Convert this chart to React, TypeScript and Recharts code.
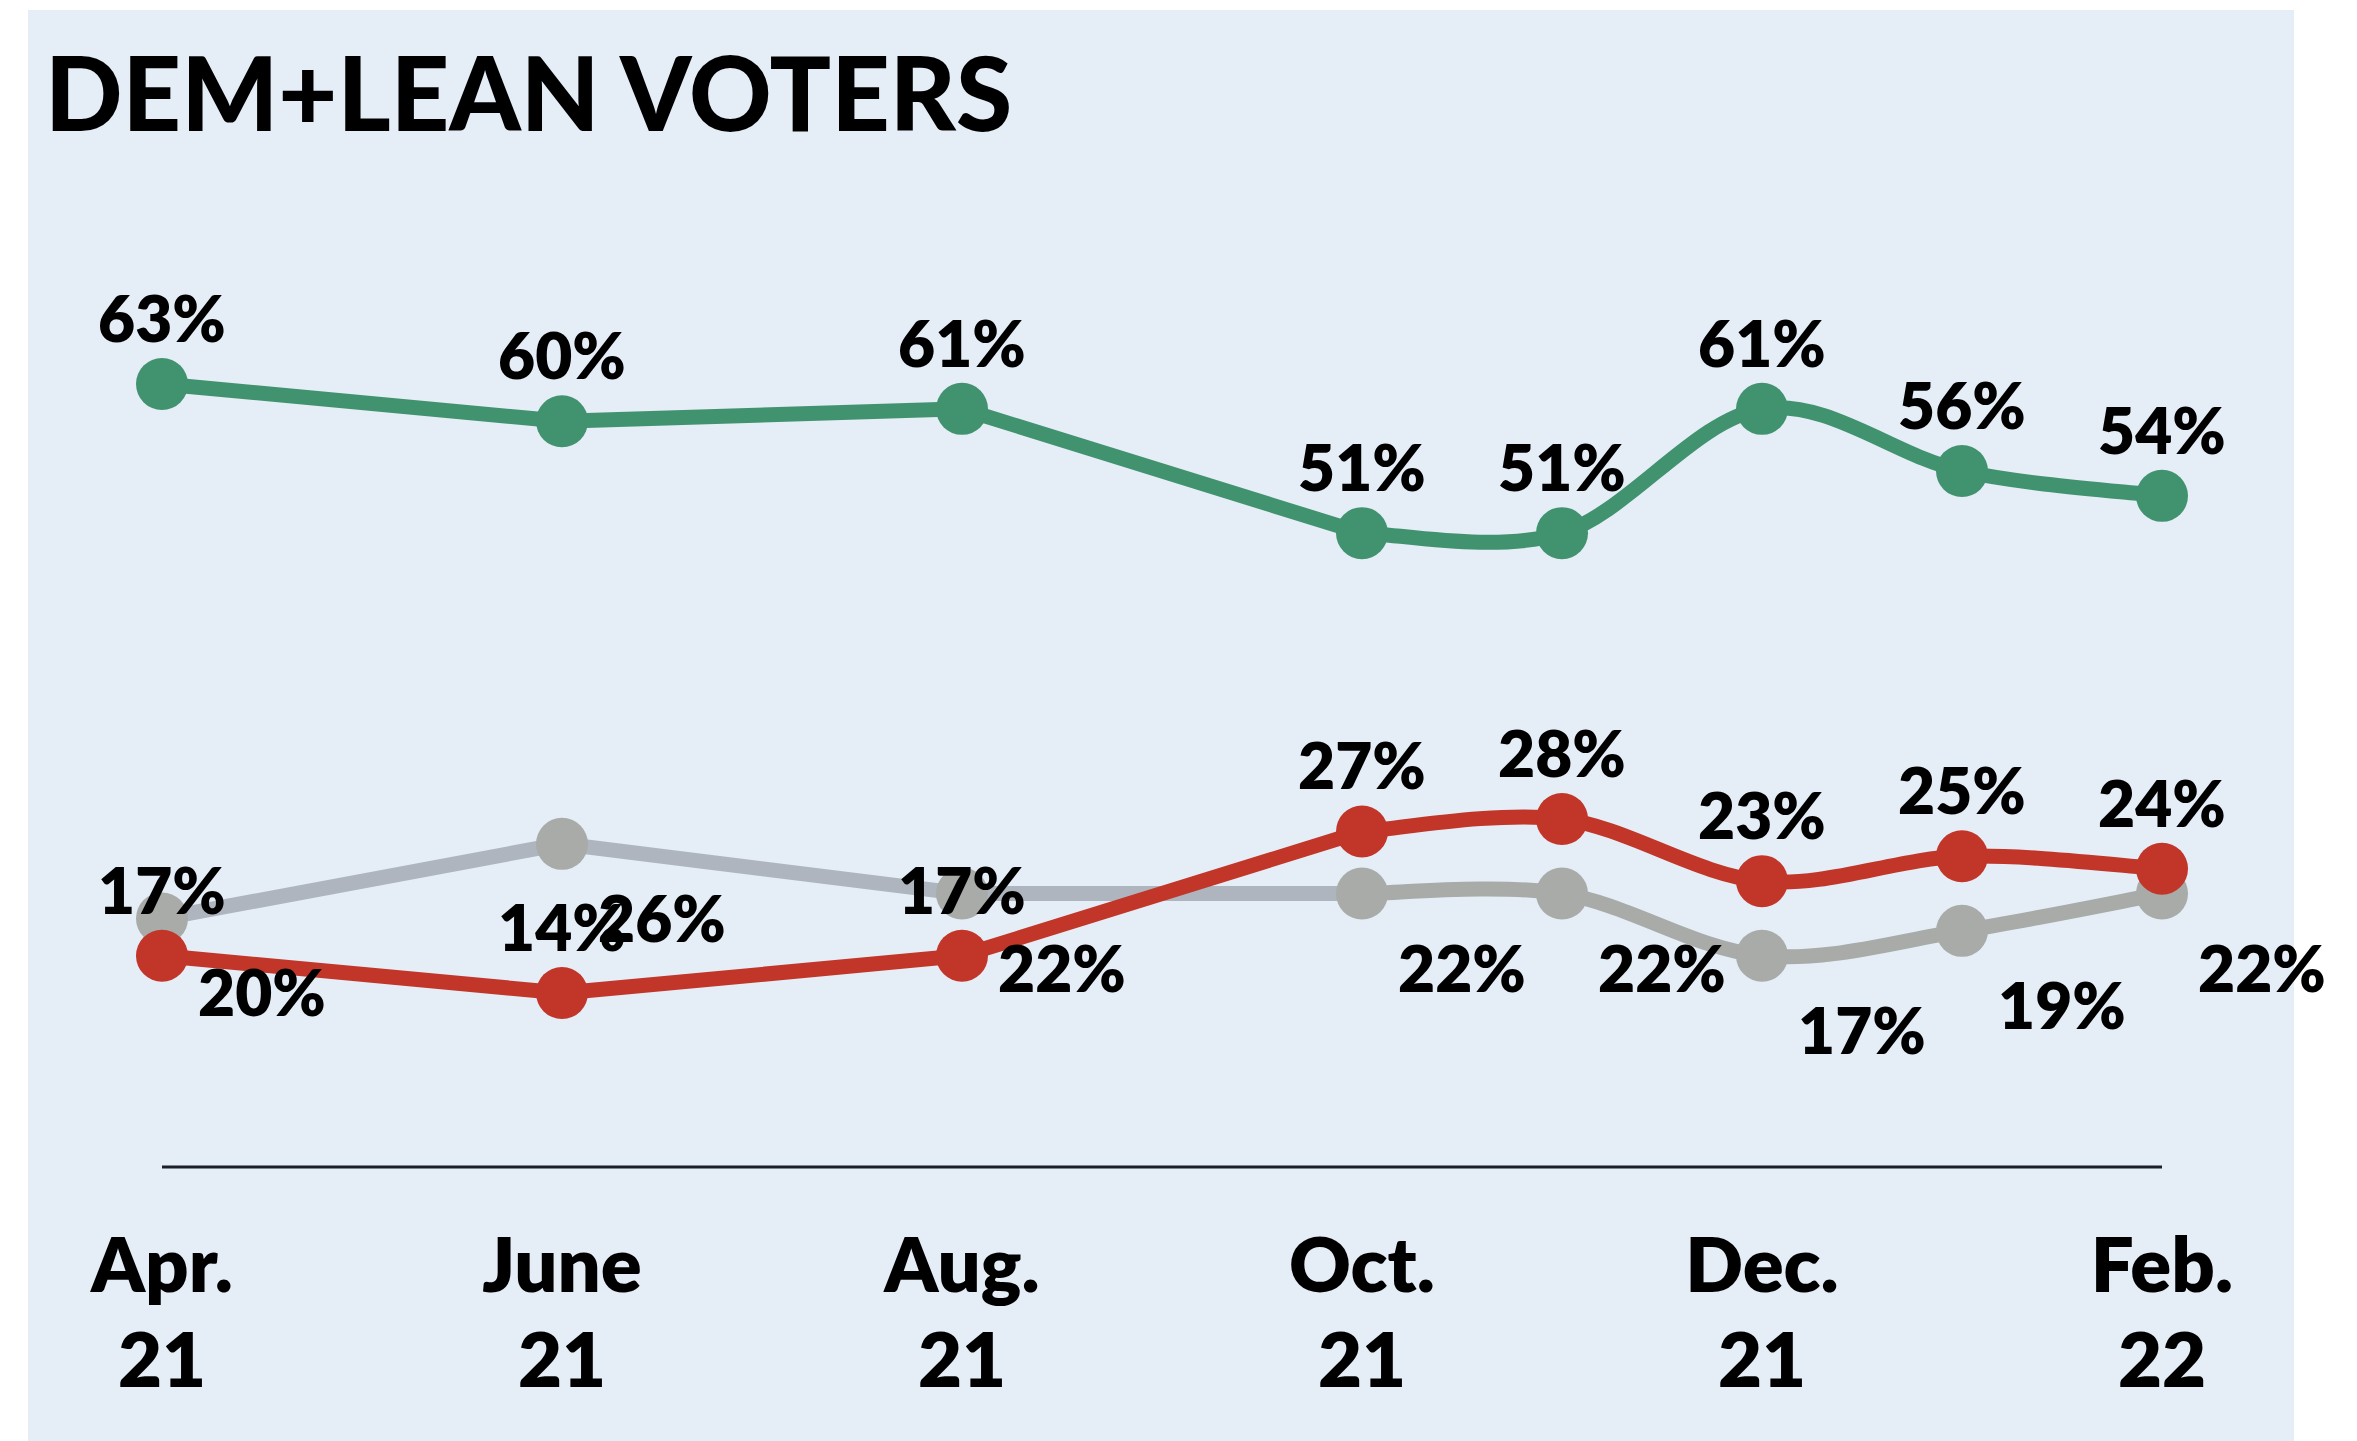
import React from "react";
import { LineChart, Line, XAxis, YAxis } from "recharts";

// month index from Apr. 21 (0) to Feb. 22 (10)
const pollMonth = [0, 2, 4, 6, 7, 8, 9, 10];
const greenValues = [63, 60, 61, 51, 51, 61, 56, 54];
const redValues = [17, 14, 17, 27, 28, 23, 25, 24];
const grayValues = [20, 26, 22, 22, 22, 17, 19, 22];

const tickMonth = [0, 2, 4, 6, 8, 10];
const tickLine1 = ["Apr.", "June", "Aug.", "Oct.", "Dec.", "Feb."];
const tickLine2 = ["21", "21", "21", "21", "21", "22"];

const SPLIT = 3; // first points are joined straight, the rest smoothed

const FONT = "Lato, 'Open Sans', sans-serif";
const GREEN = "#41936f";
const RED = "#c13628";
const GRAY = "#a8aba8";
const GRAY_EARLY = "#aeb5be";

const data = pollMonth.map((m, i) => ({
  m,
  green: greenValues[i],
  red: redValues[i],
  gray: grayValues[i],
  greenA: i <= SPLIT ? greenValues[i] : null,
  greenB: i >= SPLIT ? greenValues[i] : null,
  redA: i <= SPLIT ? redValues[i] : null,
  redB: i >= SPLIT ? redValues[i] : null,
  grayA: i <= SPLIT ? grayValues[i] : null,
  grayB: i >= SPLIT ? grayValues[i] : null,
}));

// cardinal spline (tension 0) as a d3-style curve factory
const smooth = (context: any) => {
  let pts: number[][] = [];
  return {
    areaStart() {},
    areaEnd() {},
    lineStart() {
      pts = [];
    },
    point(x: number, y: number) {
      pts.push([+x, +y]);
    },
    lineEnd() {
      const n = pts.length;
      if (!n) return;
      context.moveTo(pts[0][0], pts[0][1]);
      for (let i = 0; i < n - 1; i++) {
        const p0 = pts[Math.max(i - 1, 0)];
        const p1 = pts[i];
        const p2 = pts[i + 1];
        const p3 = pts[Math.min(i + 2, n - 1)];
        context.bezierCurveTo(
          p1[0] + (p2[0] - p0[0]) / 6,
          p1[1] + (p2[1] - p0[1]) / 6,
          p2[0] - (p3[0] - p1[0]) / 6,
          p2[1] - (p3[1] - p1[1]) / 6,
          p2[0],
          p2[1]
        );
      }
    },
  };
};

const makeDot = (color: string, dx: number, dy: number, name: string) => (props: any) => {
  const { cx, cy, value, index } = props;
  if (cx == null || cy == null || value == null) return <g key={`${name}-${index}`} />;
  return (
    <g key={`${name}-${index}`}>
      <circle cx={cx} cy={cy} r={26} fill={color} />
      <text
        x={cx + dx}
        y={cy + dy}
        textAnchor="middle"
        fontFamily={FONT}
        fontWeight={800}
        fontSize={64}
        fill="#000"
      >
        {value}%
      </text>
    </g>
  );
};

const MonthTick = (props: any) => {
  const { x, y, payload } = props;
  const i = tickMonth.indexOf(payload.value);
  return (
    <g>
      <text x={x} y={y + 125} textAnchor="middle" fontFamily={FONT} fontWeight={800} fontSize={76} fill="#000">
        {tickLine1[i]}
      </text>
      <text x={x} y={y + 220} textAnchor="middle" fontFamily={FONT} fontWeight={800} fontSize={76} fill="#000">
        {tickLine2[i]}
      </text>
    </g>
  );
};

const App: React.FC = () => {
  return (
    <div style={{ position: "absolute", left: 0, top: 0, width: 2357, height: 1441, background: "#fff", overflow: "hidden" }}>
      <div style={{ position: "absolute", left: 28, top: 10, width: 2266, height: 1431, background: "#e5edf7" }} />
      <div
        style={{
          position: "absolute",
          left: 45,
          top: 41,
          fontFamily: FONT,
          fontWeight: 900,
          fontSize: 102,
          lineHeight: 1,
          color: "#000",
          whiteSpace: "nowrap",
        }}
      >
        DEM+LEAN VOTERS
      </div>
      <div style={{ position: "absolute", left: 0, top: 0 }}>
        <LineChart width={2357} height={1441} data={data} margin={{ top: 297, right: 195, left: 162, bottom: 0 }}>
          <XAxis
            dataKey="m"
            type="number"
            domain={[0, 10]}
            ticks={tickMonth}
            tick={<MonthTick />}
            tickLine={false}
            tickSize={0}
            tickMargin={0}
            height={274}
            axisLine={{ stroke: "#1d1d2b", strokeWidth: 3 }}
            interval={0}
          />
          <YAxis hide width={0} domain={[0, 70]} />

          <Line dataKey="grayA" type="linear" stroke={GRAY_EARLY} strokeWidth={15} dot={false} activeDot={false} isAnimationActive={false} />
          <Line dataKey="grayB" type={smooth as any} stroke={GRAY} strokeWidth={15} dot={false} activeDot={false} isAnimationActive={false} />
          <Line dataKey="gray" stroke="none" dot={makeDot(GRAY, 100, 98, "gray")} activeDot={false} isAnimationActive={false} />

          <Line dataKey="redA" type="linear" stroke={RED} strokeWidth={15} dot={false} activeDot={false} isAnimationActive={false} />
          <Line dataKey="redB" type={smooth as any} stroke={RED} strokeWidth={15} dot={false} activeDot={false} isAnimationActive={false} />
          <Line dataKey="red" stroke="none" dot={makeDot(RED, 0, -42, "red")} activeDot={false} isAnimationActive={false} />

          <Line dataKey="greenA" type="linear" stroke={GREEN} strokeWidth={15} dot={false} activeDot={false} isAnimationActive={false} />
          <Line dataKey="greenB" type={smooth as any} stroke={GREEN} strokeWidth={15} dot={false} activeDot={false} isAnimationActive={false} />
          <Line dataKey="green" stroke="none" dot={makeDot(GREEN, 0, -42, "green")} activeDot={false} isAnimationActive={false} />
        </LineChart>
      </div>
    </div>
  );
};

export default App;
